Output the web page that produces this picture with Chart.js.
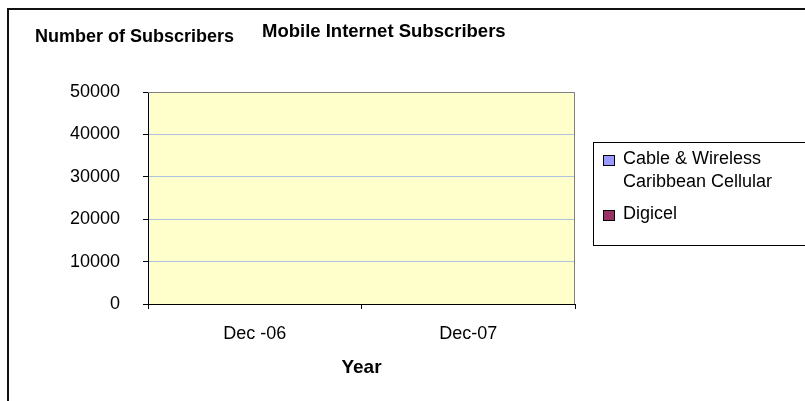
<!DOCTYPE html>
<html>
<head>
<meta charset="utf-8">
<script src="https://cdn.jsdelivr.net/npm/chart.js@4.4.0/dist/chart.umd.min.js"></script>
<style>
  html, body { margin: 0; padding: 0; background: #fff; }
  #wrap { width: 805px; height: 401px; position: relative; }
</style>
</head>
<body>
<div id="wrap"><canvas id="myChart" width="805" height="401"></canvas></div>
<script>
// data (no bars are visible, so the values are 0)
const years = ['Dec -06', 'Dec-07'];
const seriesNames = ['Cable & Wireless Caribbean Cellular', 'Digicel'];
const cwValues = [0, 0];
const digicelValues = [0, 0];
const seriesColors = ['#9999FF', '#993366'];
const yTicks = [0, 10000, 20000, 30000, 40000, 50000];

const chartTitle = 'Mobile Internet Subscribers';
const yTitle = 'Number of Subscribers';
const xTitle = 'Year';

const FONT = "'Liberation Sans', Arial, sans-serif";

// plot background, frame, titles and the boxed legend
const decor = {
  id: 'decor',
  beforeDraw(chart) {
    const { ctx, chartArea: a } = chart;
    ctx.save();
    ctx.fillStyle = '#FFFFCC';
    ctx.fillRect(a.left, a.top, a.right - a.left, a.bottom - a.top);
    // outer frame, runs off the right and bottom edges
    ctx.strokeStyle = '#111';
    ctx.lineWidth = 2;
    ctx.strokeRect(8, 9, 900, 500);
    ctx.restore();
  },
  afterDraw(chart) {
    const { ctx, chartArea: a } = chart;
    ctx.save();
    // gray top/right edges of the plot area
    ctx.strokeStyle = '#808080';
    ctx.lineWidth = 1;
    ctx.beginPath();
    ctx.moveTo(a.left, a.top + 0.5);
    ctx.lineTo(a.right - 0.5, a.top + 0.5);
    ctx.lineTo(a.right - 0.5, a.bottom);
    ctx.stroke();

    // titles
    ctx.fillStyle = '#000';
    ctx.textBaseline = 'middle';
    ctx.textAlign = 'left';
    ctx.font = 'bold 18.5px ' + FONT;
    ctx.fillText(chartTitle, 262, 32);
    ctx.font = 'bold 18px ' + FONT;
    ctx.fillText(yTitle, 35, 37);

    ctx.font = 'bold 19px ' + FONT;
    ctx.textAlign = 'center';
    ctx.fillText(xTitle, (a.left + a.right) / 2, 368);

    // legend
    ctx.strokeStyle = '#000';
    ctx.strokeRect(593.5, 142.5, 300, 103);
    ctx.font = '18px ' + FONT;
    ctx.textAlign = 'left';
    let y = 159;
    chart.data.datasets.forEach(ds => {
      const words = ds.label.split(' ');
      const lines = [];
      let cur = '';
      words.forEach(w => {
        const t = cur ? cur + ' ' + w : w;
        if (ctx.measureText(t).width > 172 && cur) { lines.push(cur); cur = w; }
        else cur = t;
      });
      lines.push(cur);
      ctx.fillStyle = ds.backgroundColor;
      ctx.fillRect(603, y - 4, 11, 10);
      ctx.strokeRect(603.5, y - 3.5, 11, 10);
      ctx.fillStyle = '#000';
      lines.forEach((ln, i) => ctx.fillText(ln, 623, y + i * 23));
      y += (lines.length - 1) * 23 + 32;
    });
    ctx.restore();
  }
};

new Chart(document.getElementById('myChart'), {
  type: 'bar',
  data: {
    labels: years,
    datasets: [
      { label: seriesNames[0], data: cwValues, backgroundColor: seriesColors[0], borderWidth: 0 },
      { label: seriesNames[1], data: digicelValues, backgroundColor: seriesColors[1], borderWidth: 0 }
    ]
  },
  options: {
    responsive: false,
    animation: false,
    layout: { padding: { left: 0, top: 92, right: 230, bottom: 0 } },
    plugins: {
      legend: { display: false },
      title: { display: false },
      tooltip: { enabled: false }
    },
    scales: {
      x: {
        afterFit(scale) { scale.height = 97; },
        grid: { drawOnChartArea: false, tickColor: '#000', tickLength: 5, offset: true },
        border: { color: '#000', width: 1 },
        ticks: { color: '#000', font: { family: FONT, size: 18 }, padding: 14, maxRotation: 0 }
      },
      y: {
        min: 0,
        max: 50000,
        afterFit(scale) { scale.width = 148; },
        afterBuildTicks(scale) { scale.ticks = yTicks.map(v => ({ value: v })); },
        grid: { color: '#AEC3E2', tickColor: '#000', tickLength: 5 },
        border: { color: '#000', width: 1 },
        ticks: {
          color: '#000',
          font: { family: FONT, size: 18 },
          padding: 23,
          callback: v => String(v)
        }
      }
    }
  },
  plugins: [decor]
});
</script>
</body>
</html>
